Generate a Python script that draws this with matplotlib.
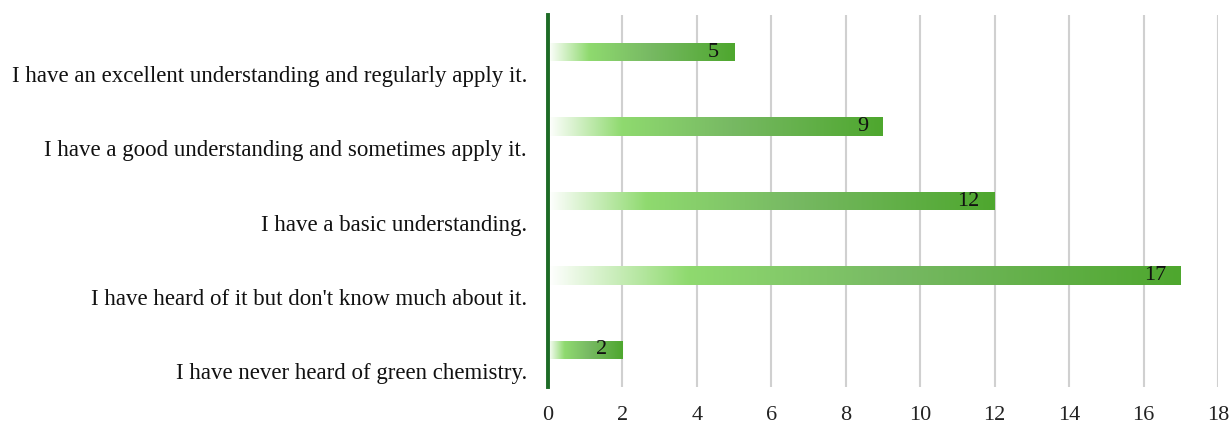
import numpy as np
import matplotlib
matplotlib.use("Agg")
import matplotlib.pyplot as plt
from matplotlib.colors import LinearSegmentedColormap
from matplotlib.transforms import ScaledTranslation

categories = [
    "I have an excellent understanding and regularly apply it.",
    "I have a good understanding and sometimes apply it.",
    "I have a basic understanding.",
    "I have heard of it but don't know much about it.",
    "I have never heard of green chemistry.",
]
counts = [5, 9, 12, 17, 2]
x_ticks = list(range(0, 19, 2))

plt.rcParams["font.family"] = ["Liberation Serif", "DejaVu Serif"]

fig = plt.figure(figsize=(12.29, 4.23), dpi=100)
ax = fig.add_axes([548 / 1229, (423 - 387) / 423, (1218 - 548) / 1229, (387 - 15) / 423])

n = len(categories)
ypos = np.arange(n)
ax.set_xlim(0, 18)
ax.set_ylim(n - 0.5, -0.5)

grad = LinearSegmentedColormap.from_list(
    "greenfade",
    [(0.0, "#ffffff"), (0.22, "#8fda6f"), (0.55, "#77b963"), (1.0, "#4ea72e")],
)
gradient = np.linspace(0, 1, 256).reshape(1, -1)

bar_h = 0.245
for y, v in zip(ypos, counts):
    bar = ax.barh(y, v, height=bar_h, color="none", edgecolor="none", zorder=2)[0]
    im = ax.imshow(gradient, cmap=grad, aspect="auto", interpolation="bicubic",
                   extent=(0, v, y + bar_h / 2, y - bar_h / 2), zorder=2)
    im.set_clip_path(bar)
    ax.text(v - 0.4, y, str(v), ha="right", va="center", fontsize=16,
            color="#111111", zorder=3)

# category labels sit a little below their bars
label_tf = ax.get_yaxis_transform() + ScaledTranslation(-21 / 100, -24 / 100, fig.dpi_scale_trans)
for y, name in zip(ypos, categories):
    ax.text(0, y, name, transform=label_tf, ha="right", va="center",
            fontsize=16.5, color="#111111")

ax.set_xticks(x_ticks)
ax.set_xticklabels([str(t) for t in x_ticks], fontsize=16, color="#222222")
ax.set_yticks(ypos)
ax.set_yticklabels([])

ax.tick_params(axis="both", length=0)
ax.tick_params(axis="x", pad=14)
ax.grid(axis="x", color="#d0d0d0", linewidth=1.5, zorder=0)
ax.set_axisbelow(True)
for s in ["top", "right", "bottom"]:
    ax.spines[s].set_visible(False)
ax.spines["left"].set_color("#1d6b26")
ax.spines["left"].set_linewidth(2.8)
ax.spines["left"].set_zorder(4)

fig.savefig("out.png", dpi=100, facecolor="white")
